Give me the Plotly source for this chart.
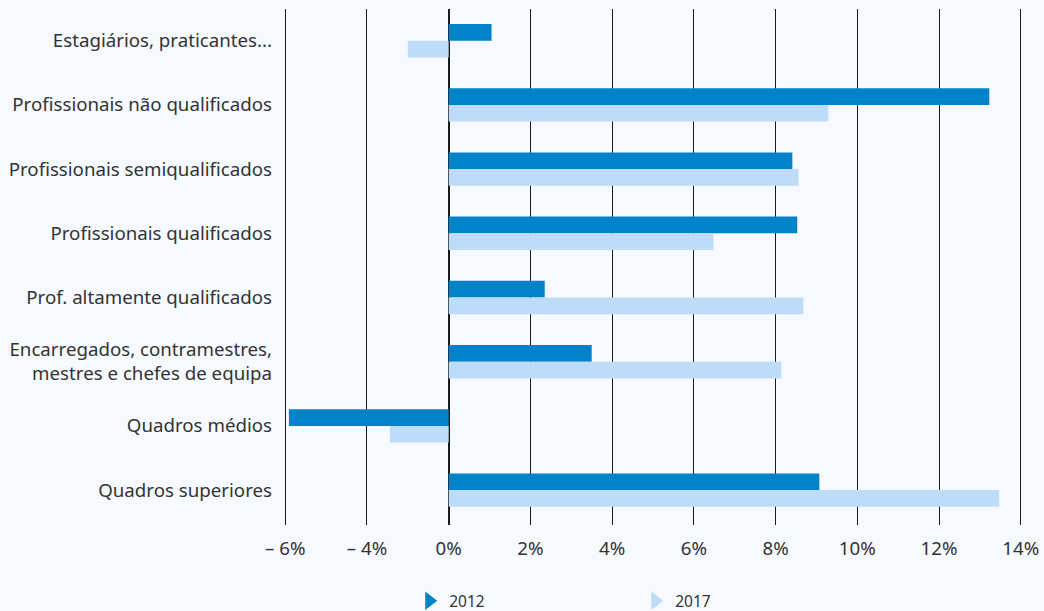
import plotly.graph_objects as go

# Occupational groups, listed top to bottom
categories = [
    "Estagiários, praticantes...",
    "Profissionais não qualificados",
    "Profissionais semiqualificados",
    "Profissionais qualificados",
    "Prof. altamente qualificados",
    "Encarregados, contramestres,<br>mestres e chefes de equipa",
    "Quadros médios",
    "Quadros superiores",
]

# Percentage change by group
values_2012 = [1.05, 13.23, 8.41, 8.53, 2.35, 3.50, -3.91, 9.07]
values_2017 = [-1.00, 9.29, 8.56, 6.48, 8.68, 8.14, -1.44, 13.47]

# Axis ticks and their printed labels
tick_values = [-4, -2, 0, 2, 4, 6, 8, 10, 12, 14]
tick_labels = ["– 6%", "– 4%", "0%", "2%", "4%", "6%", "8%", "10%", "12%", "14%"]

color_2012 = "#0082c8"
color_2017 = "#bedcf8"
bg = "#f6faff"
text_color = "#333333"
font_family = "Noto Sans, Open Sans, sans-serif"

fig = go.Figure()

fig.add_trace(go.Bar(
    y=categories, x=values_2012, orientation="h", name="2012",
    marker=dict(color=color_2012, line=dict(width=0)), showlegend=False,
))
fig.add_trace(go.Bar(
    y=categories, x=values_2017, orientation="h", name="2017",
    marker=dict(color=color_2017, line=dict(width=0)), showlegend=False,
))

# Legend entries with right-pointing triangle markers
for name, col in [("2012", color_2012), ("2017", color_2017)]:
    fig.add_trace(go.Scatter(
        x=[None], y=[None], mode="markers", name=name,
        marker=dict(symbol="triangle-right", size=16, color=col),
    ))

fig.update_layout(
    width=1044, height=611,
    margin=dict(l=284, r=22, t=9, b=86, autoexpand=False),
    paper_bgcolor=bg, plot_bgcolor=bg,
    barmode="group", bargap=0.48, bargroupgap=0,
    font=dict(family=font_family, size=18.7, color=text_color),
    legend=dict(
        orientation="h", xref="container", yref="container",
        x=0.392, xanchor="left", y=0.016, yanchor="middle",
        entrywidth=181, entrywidthmode="pixels",
        font=dict(size=15.5, color=text_color),
        bgcolor="rgba(0,0,0,0)",
        itemclick=False,
    ),
    xaxis=dict(
        range=[-4.03, 14.03], tickvals=tick_values, ticktext=tick_labels,
        showgrid=True, gridcolor="#1a1a1a", gridwidth=1.2,
        zeroline=True, zerolinecolor="#1a1a1a", zerolinewidth=1.5,
        showline=False, ticks="", ticklabelstandoff=10,
        tickfont=dict(size=18.7, color=text_color),
        automargin=False, fixedrange=True,
    ),
    yaxis=dict(
        range=[7.544, -0.494], showgrid=False, zeroline=False, showline=False,
        ticks="", ticklabelstandoff=11,
        tickfont=dict(size=18.7, color=text_color),
        automargin=False, fixedrange=True,
    ),
)

fig.write_html("out.html", config={"displayModeBar": False})
